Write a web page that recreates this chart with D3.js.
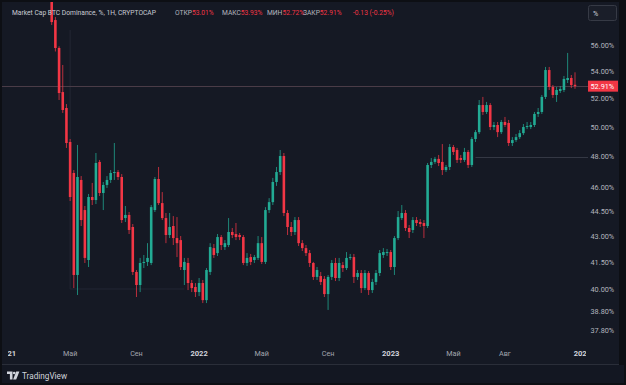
<!DOCTYPE html>
<html><head><meta charset="utf-8">
<script src="https://cdn.jsdelivr.net/npm/d3@7/dist/d3.min.js"></script>
<style>html,body{margin:0;padding:0;background:#0d0f14;overflow:hidden}svg{display:block}</style>
</head><body>
<svg id="chart" width="626" height="385"></svg>
<script>
// ---- data (weekly candles, BTC dominance %) ----
const firstWeek = "2021-03-29";
const opens = [
 60.40,57.96,55.77,52.48,51.34,48.99,46.94,40.78,46.49,44.60,
 41.63,45.41,45.22,47.66,45.66,46.17,46.49,46.94,47.00,46.68,
 44.11,44.30,43.57,40.95,40.22,41.46,41.52,41.46,44.60,46.55,
 45.03,44.11,43.09,43.63,42.91,42.79,41.06,41.46,40.33,40.11,
 39.83,40.33,39.39,40.95,42.32,42.03,42.97,42.38,42.50,43.27,
 43.15,43.09,42.97,41.46,41.80,41.63,41.75,42.61,41.52,44.60,
 45.09,46.36,47.00,48.05,44.42,43.57,43.27,43.99,42.61,42.32,
 42.03,41.46,40.67,40.72,40.56,39.72,40.67,41.46,40.61,41.34,
 41.17,41.75,41.80,40.67,40.89,40.05,40.89,39.94,40.39,40.89,
 41.92,42.03,42.09,41.23,42.91,44.11,44.42,43.51,43.39,43.99,
 43.87,43.81,43.63,47.46,47.66,47.86,47.66,47.13,47.33,48.65,
 48.45,47.92,47.79,48.32,47.46,49.19,49.66,51.55,51.06,51.55,
 50.01,50.15,49.66,50.36,50.29,48.92,49.12,49.32,49.59,50.01,
 50.01,50.15,50.92,51.06,52.13,54.10,52.85,52.27,52.56,52.63,
 53.36,53.51,53.01];
const highs = [
 60.80,58.20,55.90,54.48,51.62,49.19,47.13,48.79,46.74,44.85,
 45.60,46.30,48.25,47.79,46.36,46.74,47.13,48.92,47.13,46.87,
 44.85,44.48,43.75,41.06,41.75,41.92,42.61,44.91,46.68,47.33,
 45.72,44.42,44.42,44.23,44.17,43.03,41.75,41.75,40.50,40.33,
 40.61,40.50,41.17,42.61,42.56,43.15,43.09,42.79,44.11,43.51,
 43.81,43.21,43.09,42.03,41.98,41.92,43.03,42.97,44.78,45.34,
 46.62,47.33,48.45,48.25,44.60,43.87,44.17,44.17,42.79,42.50,
 42.21,41.52,41.23,40.95,40.72,40.78,41.63,41.75,41.75,41.52,
 42.09,41.98,41.98,41.06,41.06,41.06,41.00,40.56,41.06,42.21,
 42.32,42.27,42.21,43.03,44.54,44.91,44.60,43.69,44.17,44.17,
 44.05,43.99,47.59,47.92,47.99,48.12,48.85,47.46,48.85,48.79,
 48.59,48.12,48.59,48.45,49.32,49.80,51.91,52.13,51.77,51.69,
 50.36,50.36,50.50,50.71,50.50,49.32,49.53,49.80,50.22,50.36,
 50.36,51.06,51.34,52.27,54.33,54.33,52.99,52.85,52.92,53.66,
 55.39,53.73,53.93];
const lows = [
 57.57,55.50,51.91,50.99,48.59,45.16,40.05,39.67,43.63,41.46,
 41.23,44.91,44.97,45.47,44.60,45.98,46.30,46.49,46.49,43.81,
 43.87,43.15,40.78,39.56,39.83,41.17,41.29,41.34,44.48,44.91,
 43.99,42.61,42.91,42.50,41.80,41.06,40.22,39.94,39.83,39.56,
 39.61,39.23,39.23,40.78,41.75,41.86,42.21,42.21,42.38,42.91,
 42.79,42.79,41.34,41.29,41.34,41.46,41.63,41.40,41.40,44.42,
 44.91,46.11,46.81,44.23,43.09,43.03,43.09,42.44,42.15,41.86,
 41.23,40.50,40.50,40.22,39.56,38.86,40.50,40.44,40.44,40.95,
 41.06,41.63,40.33,40.50,39.78,39.94,39.67,39.78,40.22,40.72,
 41.75,41.86,41.06,40.78,42.79,43.99,43.33,42.91,43.21,43.63,
 43.57,42.91,43.51,47.26,47.53,47.39,46.81,47.00,47.13,48.12,
 47.59,47.59,47.66,47.26,47.33,48.99,49.53,50.85,50.92,49.80,
 49.80,49.32,49.53,50.01,48.72,48.72,48.99,49.19,49.46,49.87,
 49.87,50.01,50.71,50.92,51.98,52.63,52.06,51.77,52.41,52.48,
 53.14,52.77,52.72];
const closes = [
 57.80,55.77,52.41,51.20,48.92,45.41,40.78,46.68,43.99,41.75,
 45.41,45.22,47.59,45.66,46.17,46.49,46.94,47.00,46.68,43.99,
 44.30,43.39,40.95,40.22,41.46,41.52,41.75,44.78,46.55,45.03,
 44.11,43.09,43.57,42.91,42.61,41.23,41.52,40.33,40.05,39.83,
 40.33,39.39,41.06,42.38,41.92,42.97,42.50,42.61,43.27,43.09,
 42.97,42.97,41.46,41.75,41.52,41.80,42.61,41.52,44.60,45.09,
 46.36,47.00,48.05,44.42,43.57,43.27,43.99,42.61,42.32,42.03,
 41.46,40.67,41.06,40.39,39.72,40.67,41.46,40.61,41.46,41.17,
 41.75,41.80,40.67,40.89,40.05,40.89,39.94,40.39,40.89,42.03,
 42.09,42.09,41.23,42.91,44.17,44.42,43.51,43.27,43.99,43.81,
 43.75,43.63,47.46,47.66,47.86,47.59,47.13,47.33,48.65,48.32,
 47.79,47.79,48.32,47.46,49.19,49.66,51.55,51.06,51.55,50.01,
 50.15,49.66,50.36,50.15,48.92,49.12,49.32,49.59,50.01,50.08,
 50.15,50.92,51.06,52.13,54.10,52.85,52.27,52.63,52.70,53.44,
 53.51,52.99,52.91];

const yTickValues = [56, 54, 52, 50, 48, 46, 44.5, 43, 41.5, 40, 38.8, 37.8];
const xTickDates  = ["2021-01-04","2021-05-03","2021-09-06","2022-01-03","2022-05-02","2022-09-05","2023-01-02","2023-05-01","2023-08-07","2024-01-01"];
const xTickLabels = ["2021","Май","Сен","2022","Май","Сен","2023","Май","Авг","2024"];
const xTickIsYear = [true,false,false,true,false,false,true,false,false,true];

const lastPrice = 52.91;
const titleText = "Market Cap BTC Dominance, %, 1H, CRYPTOCAP";
const ohlcLabels = ["ОТКР","МАКС","МИН","ЗАКР"];
const ohlcValues = ["53.01%","53.93%","52.72%","52.91%"];
const changeText = "-0.13 (-0.25%)";
// drawings on chart (value space)
const hLineLevel = 48.0, hLineFrom = "2023-06-12";
const boxFrom = "2021-05-03", boxTo = "2021-12-06", boxTop = 57.17, boxBottom = 40.0;

// ---- layout ----
const W = 626, H = 385;
const pane = {l: 2, t: 2, r: 588, b: 345};
const axisRight = 619, frameBottom = 364;
const UP = "#22ab94", DOWN = "#f23645";
const FONT = "Roboto, 'Noto Sans', sans-serif";

const svg = d3.select("#chart");
const parse = s => new Date(s + "T00:00:00Z");
const start = parse(firstWeek);
const dates = closes.map((_, i) => d3.utcDay.offset(start, 7 * i));
const candles = dates.map((d, i) => ({d, o: opens[i], h: highs[i], l: lows[i], c: closes[i]}));

const x = d3.scaleUtc().domain([dates[0], dates[dates.length - 1]]).range([51.7, 575]);
const y = d3.scaleLog().domain([56, 37.8]).range([45, 330]);
const step = x(dates[1]) - x(dates[0]);
const bw = step * 0.7;

// backgrounds
svg.append("rect").attr("width", W).attr("height", H).attr("fill", "#0d0f14");
svg.append("rect").attr("x", 2).attr("y", 2).attr("width", axisRight - 2).attr("height", frameBottom - 2).attr("fill", "#151924");
svg.append("rect").attr("x", 2).attr("y", frameBottom + 1).attr("width", W - 4).attr("height", H - frameBottom - 3).attr("fill", "#131722");

const defs = svg.append("defs");
defs.append("clipPath").attr("id", "paneClip").append("rect")
  .attr("x", pane.l).attr("y", pane.t).attr("width", pane.r - pane.l).attr("height", pane.b - pane.t);
defs.append("clipPath").attr("id", "timeClip").append("rect")
  .attr("x", pane.l + 6).attr("y", pane.b).attr("width", pane.r - pane.l - 8).attr("height", frameBottom - pane.b);

const g = svg.append("g").attr("clip-path", "url(#paneClip)");

// drawings
g.append("line").attr("x1", x(parse(boxFrom))).attr("x2", x(parse(boxFrom)))
  .attr("y1", y(boxTop)).attr("y2", y(boxBottom)).attr("stroke", "#232734").attr("stroke-width", 1);
g.append("line").attr("x1", x(parse(boxFrom))).attr("x2", x(parse(boxTo)))
  .attr("y1", y(boxBottom)).attr("y2", y(boxBottom)).attr("stroke", "#232734").attr("stroke-width", 1);
g.append("line").attr("x1", x(parse(hLineFrom))).attr("x2", pane.r)
  .attr("y1", Math.round(y(hLineLevel)) + 0.5).attr("y2", Math.round(y(hLineLevel)) + 0.5)
  .attr("stroke", "#343844").attr("stroke-width", 1);
// last price line
g.append("line").attr("x1", pane.l).attr("x2", pane.r)
  .attr("y1", Math.round(y(lastPrice)) + 0.5).attr("y2", Math.round(y(lastPrice)) + 0.5)
  .attr("stroke", "#4a3c47").attr("stroke-width", 1);

// candles
const cg = g.selectAll("g.candle").data(candles).join("g").attr("class", "candle");
cg.append("line")
  .attr("x1", d => x(d.d)).attr("x2", d => x(d.d))
  .attr("y1", d => y(d.h)).attr("y2", d => y(d.l))
  .attr("stroke", d => d.c >= d.o ? UP : DOWN).attr("stroke-width", 1).attr("stroke-opacity", 0.75);
cg.append("rect")
  .attr("x", d => x(d.d) - bw / 2).attr("width", bw)
  .attr("y", d => y(Math.max(d.o, d.c)))
  .attr("height", d => Math.max(1, y(Math.min(d.o, d.c)) - y(Math.max(d.o, d.c))))
  .attr("fill", d => d.c >= d.o ? UP : DOWN);

// price axis
const pa = svg.append("g");
pa.selectAll("text.yt").data(yTickValues).join("text").attr("class", "yt")
  .attr("x", 590.5).attr("y", d => y(d) + 2.6)
  .attr("font-family", FONT).attr("font-size", 7.3).attr("fill", "#b2b5be")
  .text(d => d3.format(".2f")(d) + "%");
pa.append("rect").attr("x", 588).attr("y", y(lastPrice) - 5.5).attr("width", 30).attr("height", 11).attr("fill", DOWN);
pa.append("text").attr("x", 590.5).attr("y", y(lastPrice) + 2.6)
  .attr("font-family", FONT).attr("font-size", 7.3).attr("fill", "#ffffff").text(d3.format(".2f")(lastPrice) + "%");

// time axis
const ta = svg.append("g").attr("clip-path", "url(#timeClip)");
ta.selectAll("text.xt").data(xTickDates).join("text").attr("class", "xt")
  .attr("x", d => x(parse(d))).attr("y", 356)
  .attr("text-anchor", "middle").attr("font-family", FONT)
  .attr("font-size", (d, i) => xTickIsYear[i] ? 7.6 : 7.2)
  .attr("font-weight", (d, i) => xTickIsYear[i] ? 700 : 400)
  .attr("fill", (d, i) => xTickIsYear[i] ? "#d1d4dc" : "#a3a6af")
  .text((d, i) => xTickLabels[i]);
svg.append("line").attr("x1", 2).attr("x2", axisRight).attr("y1", frameBottom + 0.5).attr("y2", frameBottom + 0.5).attr("stroke", "#2a2e39");

// header legend
const hd = svg.append("g").attr("font-family", FONT).attr("font-size", 6.7);
hd.append("text").attr("x", 12).attr("y", 15).attr("fill", "#c8cbd3").text(titleText);
const groupX = [175, 222, 267, 303];
ohlcLabels.forEach((lab, i) => {
  const t = hd.append("text").attr("x", groupX[i]).attr("y", 15);
  t.append("tspan").attr("fill", "#b2b5be").text(lab);
  t.append("tspan").attr("fill", DOWN).text(ohlcValues[i]);
});
hd.append("text").attr("x", 353).attr("y", 15).attr("fill", DOWN).text(changeText);

// "%" button
svg.append("rect").attr("x", 588.5).attr("y", 5.5).attr("width", 28).attr("height", 15).attr("rx", 2)
  .attr("fill", "#1a1e29").attr("stroke", "#363a45");
svg.append("text").attr("x", 593).attr("y", 15.5).attr("font-family", FONT).attr("font-size", 7.2)
  .attr("fill", "#d1d4dc").text("%");

// TradingView logo
const lg = svg.append("g").attr("fill", "#d1d4dc");
lg.append("path").attr("d", "M7 371.5h5.5v8h-2.6v-5.4h-2.9z");
lg.append("circle").attr("cx", 14.2).attr("cy", 373).attr("r", 1.3);
lg.append("path").attr("d", "M16.2 371.5h3.2l-3.2 8h-3.1z");
svg.append("text").attr("x", 22).attr("y", 379).attr("font-family", FONT).attr("font-size", 8.2)
  .attr("fill", "#d1d4dc").text("TradingView");
</script>
</body></html>
